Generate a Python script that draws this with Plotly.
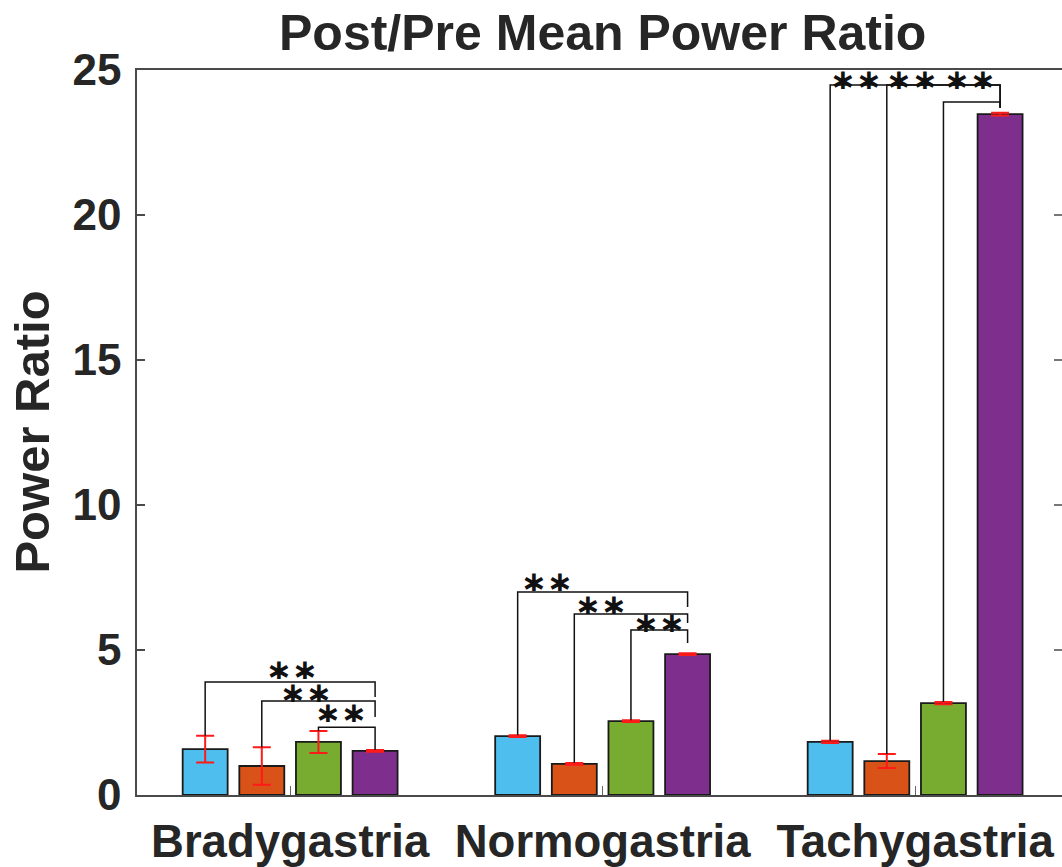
import plotly.graph_objects as go

# ---- data ---------------------------------------------------------------
groups = ["Bradygastria", "Normogastria", "Tachygastria"]
group_pos = [1, 2, 3]

blue_mean = [1.58, 2.03, 1.83]
blue_err = [0.46, 0.03, 0.04]
orange_mean = [1.00, 1.07, 1.17]
orange_err = [0.65, 0.03, 0.24]
green_mean = [1.83, 2.55, 3.17]
green_err = [0.38, 0.03, 0.04]
purple_mean = [1.52, 4.86, 23.48]
purple_err = [0.03, 0.03, 0.05]

y_ticks = [0, 5, 10, 15, 20, 25]

# significance brackets: series 0, 1, 2 each compared against series 3
bracket_pairs = [(0, 3), (1, 3), (2, 3)]
bracket_tops = [[3.90, 3.24, 2.34], [7.00, 6.24, 5.69], [24.48, 24.48, 23.90]]
bracket_right_ends = [[3.38, 2.69, 1.55], [6.48, 5.93, 5.24], [23.70, 23.70, 23.70]]
star_levels = [[4.31, 3.52, 2.83], [7.34, 6.55, 5.93], [24.66, 24.66, 24.66]]
star_frac = [[0.51, 0.39, 0.40], [0.17, 0.24, 0.50], [0.15, 0.22, 0.47]]
star_text = "∗∗"

# ---- style --------------------------------------------------------------
colors = ["#4DBEEE", "#D95319", "#77AC30", "#7E2F8E"]
means = [blue_mean, orange_mean, green_mean, purple_mean]
errs = [blue_err, orange_err, green_err, purple_err]
BARGAP = 0.275
BARGROUPGAP = 0.206
slot = (1 - BARGAP) / len(means)
font_family = "Liberation Sans, Arial, sans-serif"
text_color = "#262626"
axis_color = "#4a4a4a"

fig = go.Figure()
for k in range(len(means)):
    fig.add_trace(go.Bar(
        x=group_pos, y=means[k],
        marker=dict(color=colors[k], line=dict(color="#1a1a1a", width=1.8)),
        error_y=dict(type="data", array=errs[k], visible=True,
                     color="#ff1a1a", thickness=2, width=9),
        showlegend=False,
    ))


def bar_center(g, k):
    return group_pos[g] + (k - (len(means) - 1) / 2) * slot


shapes = []
annotations = []
for g in range(len(groups)):
    for b, (i, j) in enumerate(bracket_pairs):
        xl = bar_center(g, i)
        xr = bar_center(g, j)
        top = bracket_tops[g][b]
        left_end = means[i][g] + errs[i][g]
        right_end = bracket_right_ends[g][b]
        shapes.append(dict(
            type="path", xref="x", yref="y",
            path=f"M {xl},{left_end} L {xl},{top} L {xr},{top} L {xr},{right_end}",
            line=dict(color="#111111", width=1.5),
        ))
        annotations.append(dict(
            x=xl + star_frac[g][b] * (xr - xl), y=star_levels[g][b],
            xref="x", yref="y", text=star_text, showarrow=False,
            xanchor="center", yanchor="middle", height=18, valign="middle",
            font=dict(family="DejaVu Sans", size=31, color="#111111", weight="bold"),
        ))

# inward ticks on the right-hand side of the box
for t in y_ticks[1:-1]:
    shapes.append(dict(
        type="line", xref="paper", yref="y",
        x0=1 - 8 / 925, x1=1, y0=t, y1=t,
        line=dict(color=axis_color, width=1.5),
    ))

annotations.append(dict(
    text="Post/Pre Mean Power Ratio", xref="paper", yref="paper",
    x=0.503, y=1.051, xanchor="center", yanchor="middle", showarrow=False,
    font=dict(family=font_family, size=50, color=text_color, weight="bold"),
))
annotations.append(dict(
    text="Power Ratio", xref="paper", yref="paper",
    x=-0.1145, y=0.5, xanchor="center", yanchor="middle", showarrow=False,
    textangle=-90,
    font=dict(family=font_family, size=49, color=text_color, weight="bold"),
))

fig.update_layout(
    width=1062, height=867,
    margin=dict(l=137, r=0, t=70, b=72, pad=0),
    paper_bgcolor="white", plot_bgcolor="white",
    barmode="group", bargap=BARGAP, bargroupgap=BARGROUPGAP,
    shapes=shapes, annotations=annotations,
    xaxis=dict(
        range=[0.51, 3.47], tickvals=group_pos, ticktext=groups,
        ticks="inside", ticklen=9, tickwidth=1, tickcolor="#666666",
        showline=True, linecolor=axis_color, linewidth=1.5, mirror=True,
        showgrid=False, zeroline=False, ticklabelstandoff=6,
        tickfont=dict(family=font_family, size=45.5, color=text_color, weight="bold"),
    ),
    yaxis=dict(
        range=[0, 25], tickvals=y_ticks,
        ticks="inside", ticklen=8, tickwidth=1.5, tickcolor=axis_color,
        showline=True, linecolor=axis_color, linewidth=1.5,
        showgrid=False, zeroline=False, ticklabelstandoff=5,
        tickfont=dict(family=font_family, size=44, color=text_color, weight="bold"),
    ),
)

fig.write_html("out.html")
